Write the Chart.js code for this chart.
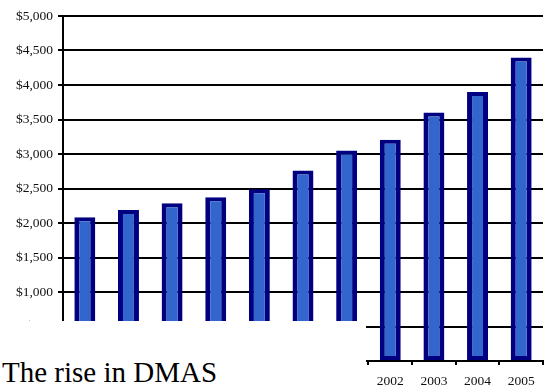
<!DOCTYPE html>
<html>
<head>
<meta charset="utf-8">
<script src="https://cdn.jsdelivr.net/npm/chart.js@4"></script>
<style>
  html, body { margin: 0; padding: 0; background: #fff; }
  #wrap { position: relative; width: 547px; height: 387px; overflow: hidden; }
  #c { position: absolute; left: 0; top: 0; }
  #mask { position: absolute; left: 0; top: 321px; width: 366px; height: 66px; background: #fff; }
  #caption { position: absolute; left: 2px; top: 357px; font-family: "Liberation Serif", "Times New Roman", serif; font-size: 29px; line-height: 30px; color: #000; white-space: nowrap; }
</style>
</head>
<body>
<div id="wrap">
  <canvas id="c" width="547" height="387"></canvas>
  <div id="mask"></div>
  <div id="caption">The rise in DMAS</div>
</div>
<script>
const categories = ['1995', '1996', '1997', '1998', '1999', '2000', '2001', '2002', '2003', '2004', '2005'];
const values = [2085, 2190, 2285, 2375, 2490, 2760, 3050, 3205, 3600, 3900, 4400];
const yMin = 0;
const yMax = 5000;
const yStep = 500;

const fontFamily = '"Liberation Serif", "Times New Roman", serif';

new Chart(document.getElementById('c'), {
  type: 'bar',
  data: {
    labels: categories,
    datasets: [{
      data: values,
      backgroundColor: '#3366CC',
      borderColor: '#000080',
      borderWidth: { left: 5, right: 5, top: 4, bottom: 4 },
      borderSkipped: false,
      categoryPercentage: 1.0,
      barPercentage: 0.48
    }]
  },
  options: {
    responsive: false,
    animation: false,
    devicePixelRatio: 1,
    layout: { padding: { left: 0, right: 4, top: 16, bottom: 0 } },
    plugins: { legend: { display: false }, tooltip: { enabled: false }, title: { display: false } },
    scales: {
      x: {
        offset: true,
        afterFit: (s) => { s.height = 26; },
        grid: { display: true, drawOnChartArea: false, drawTicks: true, tickLength: 4, color: '#000', lineWidth: 2, offset: true },
        border: { display: true, color: '#000', width: 2 },
        ticks: { color: '#111', font: { family: fontFamily, size: 13.5 }, padding: 8, maxRotation: 0, autoSkip: false }
      },
      y: {
        min: yMin,
        max: yMax,
        afterFit: (s) => { s.width = 63; },
        grid: { display: true, drawOnChartArea: true, drawTicks: true, tickLength: 5, color: '#000', lineWidth: 2 },
        border: { display: true, color: '#000', width: 2 },
        ticks: {
          stepSize: yStep,
          color: '#111',
          padding: 5,
          font: { family: fontFamily, size: 13.5 },
          callback: (v) => '$' + Number(v).toLocaleString('en-US')
        }
      }
    }
  }
});
</script>
</body>
</html>
